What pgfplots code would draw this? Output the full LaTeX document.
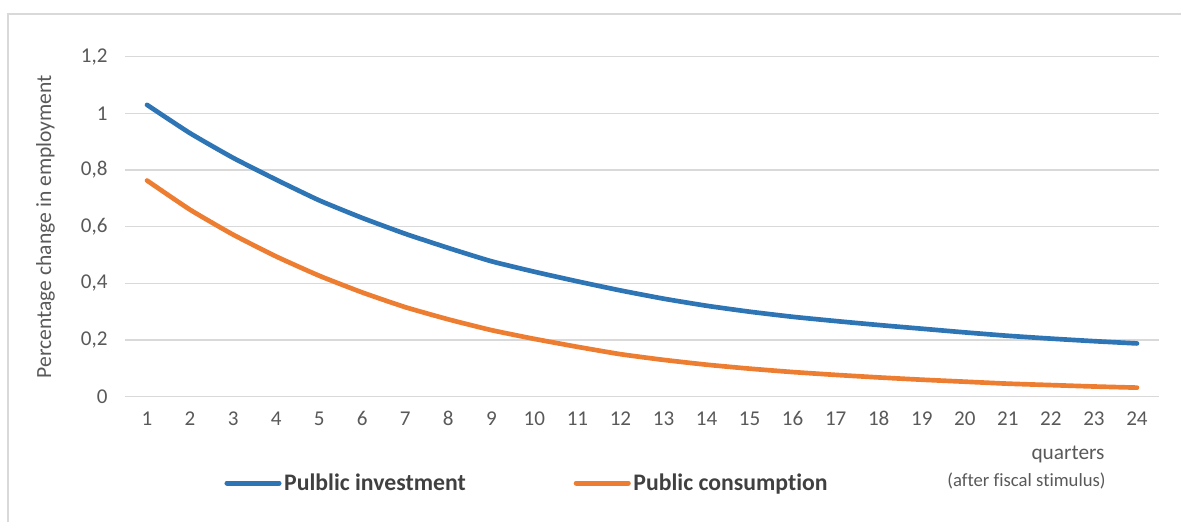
\documentclass[border=0pt]{standalone}
\usepackage{fontspec}
\setmainfont[Ligatures=NoCommon]{Carlito}
\usepackage{pgfplots}
\pgfplotsset{compat=1.18}
\definecolor{sblue}{HTML}{2E75B6}
\definecolor{sorange}{HTML}{ED7D31}
\definecolor{gridc}{HTML}{D9D9D9}
\definecolor{tickc}{HTML}{595959}
\definecolor{legc}{HTML}{404040}
\begin{document}
\begin{tikzpicture}
\begin{axis}[
  at={(0,0)}, anchor=south west,
  scale only axis,
  width=774.75pt, height=255pt,
  xmin=0.5, xmax=24.5, ymin=0, ymax=1.2,
  xtick={1,...,24},
  ytick={0,0.2,0.4,0.6,0.8,1,1.2},
  yticklabels={0,{0,2},{0,4},{0,6},{0,8},1,{1,2}},
  ymajorgrids, grid style={gridc, line width=1.1pt},
  axis line style={draw=none},
  tick style={draw=none},
  major tick length=0pt,
  /pgf/number format/assume math mode=true,
  tick label style={font=\fontsize{15.8}{18}\selectfont, text=tickc},
  yticklabel style={xshift=-10pt},
  xticklabel style={yshift=-8pt, text height=10pt, text depth=0pt},
  ylabel={Percentage change in employment},
  ylabel style={font=\fontsize{16.2}{18}\selectfont, text=tickc, at={(axis description cs:-0.0775,0.5)}, anchor=center},
  legend columns=2,
  legend style={at={(axis description cs:0.389,-0.254)}, anchor=center, draw=none, fill=none,
    font=\bfseries\fontsize{17.8}{20}\selectfont, text=legc,
    /tikz/every even column/.append style={column sep=79pt}},
  legend cell align=left,
  legend image code/.code={\draw[#1, line width=3.8pt, line cap=round] (0pt,0pt) -- (39pt,0pt);},
  clip=false,
]
\addplot[sblue, line width=3.5pt, line cap=round, line join=round, smooth, tension=0.3] coordinates {
(1,1.030) (2,0.930) (3,0.843) (4,0.766) (5,0.693) (6,0.631) (7,0.575) (8,0.525)
(9,0.478) (10,0.441) (11,0.407) (12,0.375) (13,0.346) (14,0.321) (15,0.300) (16,0.282)
(17,0.267) (18,0.253) (19,0.240) (20,0.227) (21,0.215) (22,0.205) (23,0.196) (24,0.188)};
\addlegendentry{Pulblic investment}
\addplot[sorange, line width=3.5pt, line cap=round, line join=round, smooth, tension=0.3] coordinates {
(1,0.763) (2,0.660) (3,0.572) (4,0.495) (5,0.427) (6,0.368) (7,0.316) (8,0.273)
(9,0.235) (10,0.204) (11,0.176) (12,0.150) (13,0.130) (14,0.113) (15,0.099) (16,0.087)
(17,0.077) (18,0.068) (19,0.060) (20,0.053) (21,0.046) (22,0.041) (23,0.036) (24,0.032)};
\addlegendentry{Public consumption}
\node[anchor=east, text=tickc, font=\fontsize{16}{18}\selectfont, inner sep=0pt] at (axis description cs:0.948,-0.171) {quarters};
\node[anchor=east, text=tickc, font=\fontsize{14}{16}\selectfont, inner sep=0pt] at (axis description cs:0.949,-0.248) {(after fiscal stimulus)};
\end{axis}
\pgfresetboundingbox
\useasboundingbox (-94.125pt,-93.975pt) rectangle (791.625pt,297.525pt);
\draw[gridc, line width=0.9pt] (-88.125pt,-93.975pt) -- (-88.125pt,287.025pt) -- (791.625pt,287.025pt);
\end{tikzpicture}
\end{document}
